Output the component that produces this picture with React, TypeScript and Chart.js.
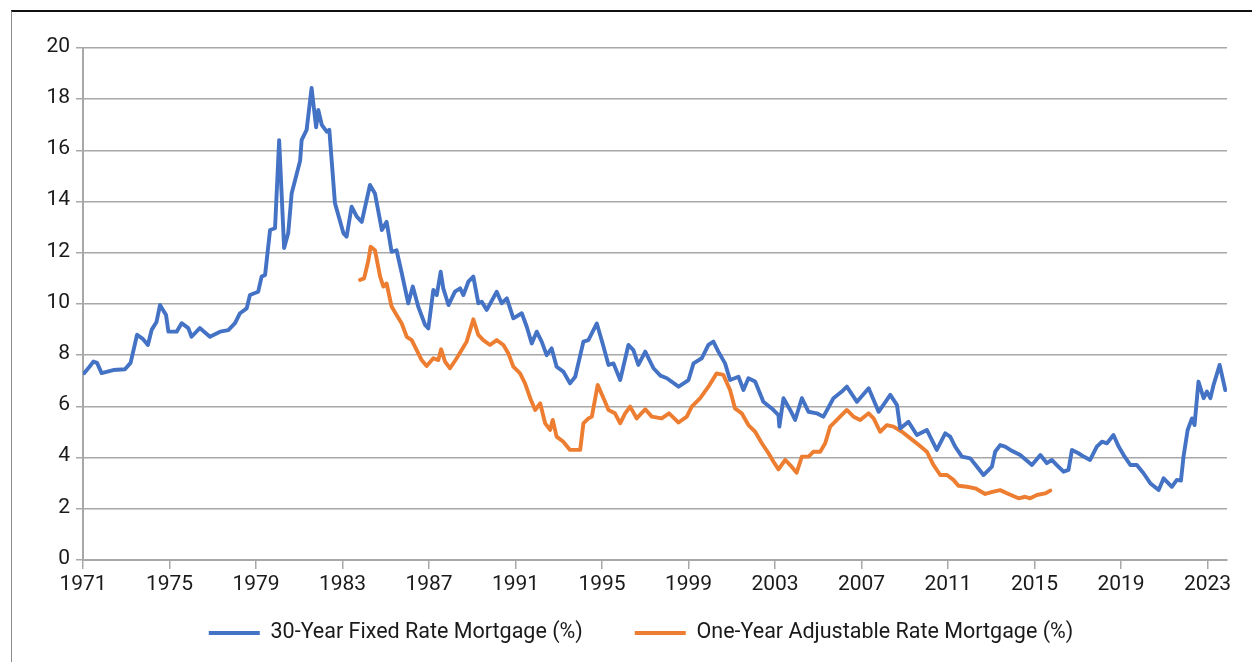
import React, { useEffect, useRef } from "react";
import { Chart, registerables } from "chart.js";

Chart.register(...registerables);

const yearTicks = [1971, 1975, 1979, 1983, 1987, 1991, 1995, 1999, 2003, 2007, 2011, 2015, 2019, 2023];

const fixedYears = [
  1971.05, 1971.3, 1971.48, 1971.65, 1971.86, 1972.4, 1972.94, 1973.2, 1973.5, 1973.75,
  1974.0, 1974.18, 1974.4, 1974.56, 1974.84, 1974.95, 1975.33, 1975.56, 1975.87, 1976.02,
  1976.4, 1976.87, 1977.34, 1977.72, 1978.03, 1978.26, 1978.57, 1978.72, 1979.1, 1979.26,
  1979.42, 1979.65, 1979.88, 1980.07, 1980.3, 1980.49, 1980.65, 1981.04, 1981.11, 1981.34,
  1981.57, 1981.78, 1981.88, 1982.04, 1982.27, 1982.39, 1982.65, 1983.04, 1983.19, 1983.42,
  1983.66, 1983.89, 1984.27, 1984.5, 1984.82, 1985.04, 1985.27, 1985.5, 1985.74, 1986.04,
  1986.25, 1986.5, 1986.82, 1986.97, 1987.2, 1987.36, 1987.54, 1987.66, 1987.9, 1988.2,
  1988.44, 1988.59, 1988.82, 1989.05, 1989.28, 1989.44, 1989.67, 1990.13, 1990.36, 1990.6,
  1990.9, 1991.29, 1991.52, 1991.75, 1991.98, 1992.21, 1992.44, 1992.67, 1992.9, 1993.21,
  1993.52, 1993.76, 1994.14, 1994.37, 1994.76, 1995.07, 1995.3, 1995.53, 1995.84, 1996.22,
  1996.45, 1996.68, 1997.0, 1997.38, 1997.7, 1998.0, 1998.54, 1999.0, 1999.23, 1999.61,
  1999.92, 2000.15, 2000.38, 2000.69, 2000.92, 2001.31, 2001.54, 2001.77, 2002.08, 2002.46,
  2002.85, 2003.16, 2003.2, 2003.39, 2003.7, 2003.93, 2004.24, 2004.55, 2004.93, 2005.24,
  2005.7, 2006.09, 2006.32, 2006.79, 2007.33, 2007.79, 2008.33, 2008.64, 2008.79, 2009.17,
  2009.56, 2010.02, 2010.48, 2010.87, 2011.1, 2011.33, 2011.64, 2012.03, 2012.33, 2012.64,
  2013.03, 2013.18, 2013.41, 2013.64, 2013.88, 2014.34, 2014.88, 2015.27, 2015.57, 2015.8,
  2016.03, 2016.34, 2016.57, 2016.73, 2017.03, 2017.27, 2017.57, 2017.88, 2018.12, 2018.35,
  2018.65, 2018.89, 2019.12, 2019.43, 2019.73, 2020.04, 2020.35, 2020.74, 2020.97, 2021.35,
  2021.58, 2021.77, 2021.89, 2022.08, 2022.28, 2022.4, 2022.58, 2022.82, 2022.97, 2023.13,
  2023.28, 2023.56, 2023.82,
];
const fixedRates = [
  7.3, 7.55, 7.75, 7.7, 7.3, 7.42, 7.45, 7.7, 8.8, 8.65,
  8.4, 9.0, 9.3, 9.96, 9.57, 8.92, 8.92, 9.25, 9.06, 8.72,
  9.06, 8.72, 8.92, 8.98, 9.25, 9.64, 9.83, 10.35, 10.48, 11.07,
  11.13, 12.89, 12.96, 16.4, 12.19, 12.77, 14.33, 15.6, 16.4, 16.8,
  18.44, 16.9, 17.58, 17.0, 16.73, 16.8, 13.94, 12.77, 12.63, 13.8,
  13.41, 13.21, 14.65, 14.32, 12.89, 13.21, 12.04, 12.1, 11.2, 10.03,
  10.68, 9.9, 9.18, 9.05, 10.55, 10.35, 11.26, 10.61, 9.96, 10.48,
  10.61, 10.35, 10.87, 11.07, 10.03, 10.09, 9.77, 10.48, 10.03, 10.22,
  9.44, 9.64, 9.11, 8.46, 8.92, 8.53, 8.0, 8.27, 7.55, 7.36,
  6.9, 7.16, 8.53, 8.59, 9.24, 8.33, 7.62, 7.68, 7.03, 8.4,
  8.2, 7.62, 8.14, 7.49, 7.2, 7.1, 6.77, 7.03, 7.68, 7.88,
  8.4, 8.53, 8.14, 7.68, 7.03, 7.16, 6.64, 7.1, 6.97, 6.18,
  5.92, 5.66, 5.21, 6.32, 5.86, 5.47, 6.32, 5.79, 5.73, 5.6,
  6.32, 6.58, 6.77, 6.18, 6.71, 5.79, 6.45, 6.05, 5.14, 5.4,
  4.88, 5.08, 4.3, 4.95, 4.82, 4.43, 4.04, 3.97, 3.65, 3.32,
  3.65, 4.23, 4.49, 4.43, 4.3, 4.1, 3.71, 4.1, 3.78, 3.91,
  3.71, 3.45, 3.52, 4.3, 4.17, 4.04, 3.91, 4.43, 4.62, 4.56,
  4.88, 4.43, 4.1, 3.71, 3.71, 3.39, 3.0, 2.73, 3.19, 2.86,
  3.13, 3.1, 4.04, 5.08, 5.53, 5.27, 6.97, 6.32, 6.58, 6.32,
  6.84, 7.62, 6.64,
];

const armYears = [
  1983.81, 1984.0, 1984.2, 1984.3, 1984.5, 1984.74, 1984.89, 1985.04, 1985.27, 1985.5,
  1985.74, 1985.97, 1986.2, 1986.43, 1986.66, 1986.89, 1987.2, 1987.43, 1987.56, 1987.74,
  1987.97, 1988.28, 1988.51, 1988.74, 1989.05, 1989.28, 1989.51, 1989.82, 1990.13, 1990.44,
  1990.67, 1990.9, 1991.21, 1991.44, 1991.68, 1991.91, 1992.14, 1992.37, 1992.6, 1992.72,
  1992.9, 1993.21, 1993.52, 1993.99, 1994.14, 1994.37, 1994.53, 1994.8, 1995.07, 1995.3,
  1995.6, 1995.84, 1996.07, 1996.3, 1996.6, 1997.0, 1997.3, 1997.76, 1998.1, 1998.54,
  1998.92, 1999.15, 1999.54, 1999.92, 2000.3, 2000.61, 2000.92, 2001.15, 2001.46, 2001.77,
  2002.08, 2002.39, 2002.7, 2002.93, 2003.16, 2003.47, 2003.7, 2004.0, 2004.24, 2004.55,
  2004.78, 2005.09, 2005.32, 2005.55, 2005.93, 2006.32, 2006.63, 2006.94, 2007.33, 2007.56,
  2007.86, 2008.17, 2008.48, 2008.87, 2009.26, 2009.65, 2010.02, 2010.33, 2010.64, 2010.95,
  2011.25, 2011.48, 2011.87, 2012.26, 2012.72, 2013.1, 2013.41, 2013.8, 2014.26, 2014.57,
  2014.8, 2015.11, 2015.49, 2015.73,
];
const armRates = [
  10.94, 11.0, 11.72, 12.24, 12.1, 11.07, 10.68, 10.8, 9.9, 9.57,
  9.24, 8.72, 8.59, 8.2, 7.81, 7.58, 7.88, 7.81, 8.23, 7.75,
  7.49, 7.88, 8.2, 8.53, 9.4, 8.79, 8.59, 8.4, 8.59, 8.4,
  8.07, 7.55, 7.29, 6.9, 6.32, 5.86, 6.12, 5.34, 5.08, 5.47,
  4.82, 4.62, 4.3, 4.3, 5.34, 5.53, 5.6, 6.84, 6.32, 5.86,
  5.73, 5.34, 5.73, 5.99, 5.53, 5.89, 5.6, 5.53, 5.73, 5.37,
  5.6, 5.99, 6.32, 6.77, 7.29, 7.23, 6.64, 5.92, 5.73, 5.27,
  5.01, 4.56, 4.17, 3.84, 3.54, 3.91, 3.71, 3.41, 4.04, 4.04,
  4.23, 4.23, 4.56, 5.21, 5.53, 5.86, 5.6, 5.47, 5.73, 5.53,
  5.01, 5.27, 5.21, 5.01, 4.75, 4.49, 4.23, 3.71, 3.32, 3.32,
  3.13, 2.9, 2.86, 2.8, 2.58, 2.67, 2.73, 2.58, 2.41, 2.47,
  2.41, 2.54, 2.6, 2.71,
];

const seriesNames = ["30-Year Fixed Rate Mortgage (%)", "One-Year Adjustable Rate Mortgage (%)"];
const seriesColors = ["#4472C4", "#ED7D31"];

const FONT = "Roboto";
const TEXT = "#1a1a1a";
const GRID = "#a8a8a8";

export default function App() {
  const ref = useRef<HTMLCanvasElement>(null);

  useEffect(() => {
    if (!ref.current) return;
    Chart.defaults.font.family = FONT;
    const chart = new Chart(ref.current, {
      type: "line",
      data: {
        datasets: [
          {
            label: seriesNames[0],
            data: fixedYears.map((x, i) => ({ x, y: fixedRates[i] })),
            borderColor: seriesColors[0],
            backgroundColor: seriesColors[0],
            borderWidth: 3.9,
            pointRadius: 0,
            tension: 0,
            fill: false,
            borderJoinStyle: "round",
            borderCapStyle: "round",
          },
          {
            label: seriesNames[1],
            data: armYears.map((x, i) => ({ x, y: armRates[i] })),
            borderColor: seriesColors[1],
            backgroundColor: seriesColors[1],
            borderWidth: 3.9,
            pointRadius: 0,
            tension: 0,
            fill: false,
            borderJoinStyle: "round",
            borderCapStyle: "round",
          },
        ],
      },
      options: {
        animation: false,
        responsive: false,
        maintainAspectRatio: false,
        layout: { padding: { left: 0, top: 36, right: 0, bottom: 8.25 } },
        plugins: {
          tooltip: { enabled: false },
          legend: {
            position: "bottom",
            fullSize: true,
            labels: {
              font: { family: FONT, size: 21.5 },
              color: TEXT,
              boxWidth: 51,
              boxHeight: 4,
              padding: 52,
              generateLabels: (c: any) =>
                c.data.datasets.map((d: any, i: number) => ({
                  text: d.label,
                  fillStyle: d.borderColor,
                  strokeStyle: d.borderColor,
                  lineWidth: 0,
                  hidden: false,
                  datasetIndex: i,
                  fontColor: TEXT,
                })),
            },
          },
        },
        scales: {
          x: {
            type: "linear",
            min: 1971,
            max: 2023.9,
            afterBuildTicks: (s: any) => {
              s.ticks = yearTicks.map((v) => ({ value: v }));
            },
            afterFit: (s: any) => {
              s.height = 10.25;
              s._computeLabelArea = () => null;
            },
            ticks: {
              autoSkip: false,
              maxRotation: 0,
              padding: 3,
              color: TEXT,
              font: { family: FONT, size: 21 },
              callback: (v: any) => String(v),
            },
            grid: {
              drawOnChartArea: false,
              drawTicks: true,
              tickLength: 9,
              color: GRID,
              lineWidth: 1.5,
            },
            border: { display: true, color: GRID, width: 2 },
          },
          y: {
            min: 0,
            max: 20,
            afterFit: (s: any) => {
              s.width = 71;
            },
            ticks: {
              stepSize: 2,
              padding: 6,
              labelOffset: -1.5,
              color: TEXT,
              font: { family: FONT, size: 21 },
            },
            grid: {
              color: GRID,
              lineWidth: 1.5,
              tickLength: 7,
              drawTicks: true,
            },
            border: { display: true, color: GRID, width: 2 },
          },
          rightSpace: {
            type: "linear",
            position: "right",
            display: true,
            grid: { display: false, drawTicks: false },
            ticks: { display: false },
            border: { display: false },
            afterFit: (s: any) => {
              s.width = 43;
            },
          },
        },
      },
    } as any);
    return () => chart.destroy();
  }, []);

  return (
    <div
      style={{
        position: "fixed",
        left: 0,
        top: 0,
        width: 1252,
        height: 662,
        overflow: "hidden",
        background: "#fff",
      }}
    >
      <div
        style={{
          position: "absolute",
          left: 11,
          top: 10,
          width: 1262,
          height: 660,
          borderTop: "2px solid #111",
          borderLeft: "1px solid #8c8c8c",
        }}
      >
        <canvas
          ref={ref}
          width={1258}
          height={650}
          style={{ display: "block", width: 1258, height: 650 }}
        />
      </div>
    </div>
  );
}
